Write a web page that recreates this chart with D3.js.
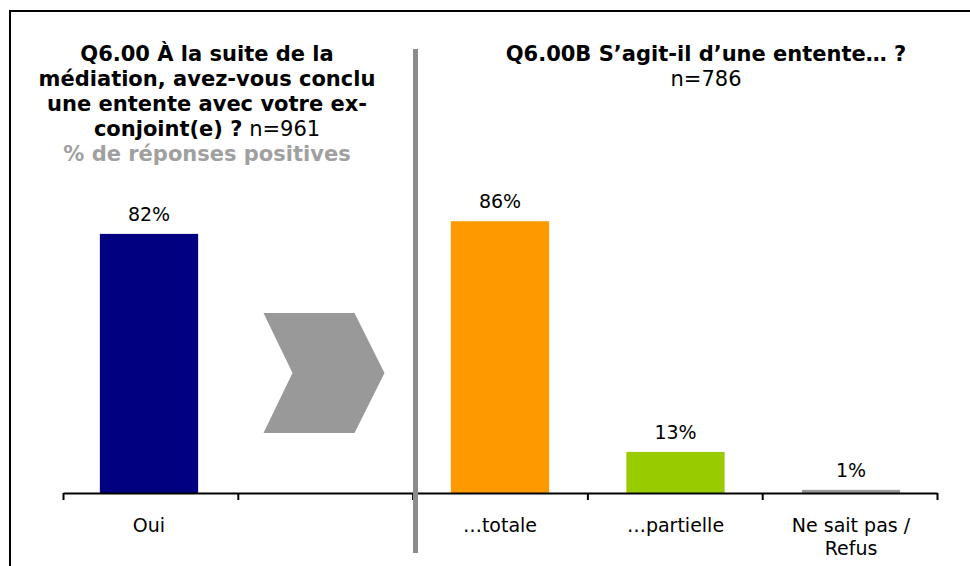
<!DOCTYPE html>
<html>
<head>
<meta charset="utf-8">
<script src="https://cdn.jsdelivr.net/npm/d3@7"></script>
<style>
  body { margin: 0; background: #fff; }
  svg { display: block; font-family: "DejaVu Sans", Verdana, sans-serif; }
</style>
</head>
<body>
<div id="chart"></div>
<script>
// categories (the empty one holds the arrow between the two questions)
const categories = ["Oui", "", "\u2026totale", "\u2026partielle", "Ne sait pas / Refus"];
const values = [82, null, 86, 13, 1];
const valueLabels = ["82%", "", "86%", "13%", "1%"];
const barColors = ["#000080", "none", "#FF9900", "#99CC00", "#999999"];
const labelLines = [["Oui"], [""], ["\u2026totale"], ["\u2026partielle"], ["Ne sait pas /", "Refus"]];

const leftTitle = ["Q6.00 \u00C0 la suite de la", "m\u00E9diation, avez-vous conclu", "une entente avec votre ex-"];
const leftTitleLast = ["conjoint(e) ?", " n=961"];
const leftSubtitle = "% de r\u00E9ponses positives";
const rightTitle = ["Q6.00B S\u2019agit-il d\u2019une entente\u2026 ?", "n=786"];

const W = 970, H = 566;
const svg = d3.select("#chart").append("svg")
    .attr("width", W)
    .attr("height", H);

// frame
svg.append("rect")
    .attr("x", 10).attr("y", 11)
    .attr("width", 1000).attr("height", 1000)
    .attr("fill", "none")
    .attr("stroke", "#000")
    .attr("stroke-width", 2);

// scales
const x = d3.scaleBand()
    .domain(categories)
    .range([63, 937])
    .paddingInner(0.44)
    .paddingOuter(0.21);

const y = d3.scaleLinear()
    .domain([0, 100])
    .range([493, 177]);

// bars
svg.selectAll(".bar")
    .data(categories.map((c, i) => ({ c, v: values[i], col: barColors[i] })).filter(d => d.v != null))
    .join("rect")
    .attr("class", "bar")
    .attr("x", d => x(d.c))
    .attr("width", x.bandwidth())
    .attr("y", d => y(d.v))
    .attr("height", d => y(0) - y(d.v))
    .attr("fill", d => d.col);

// value labels
svg.selectAll(".val")
    .data(categories.map((c, i) => ({ c, v: values[i], t: valueLabels[i] })).filter(d => d.v != null))
    .join("text")
    .attr("class", "val")
    .attr("x", d => x(d.c) + x.bandwidth() / 2)
    .attr("y", d => y(d.v) - 13)
    .attr("text-anchor", "middle")
    .attr("font-size", 19)
    .attr("fill", "#000")
    .text(d => d.t);

// x axis: ticks between categories
const xb = d3.scaleLinear().domain([0, categories.length]).range(x.range());
svg.append("g")
    .attr("transform", `translate(0,${y(0)})`)
    .call(d3.axisBottom(xb).tickValues(d3.range(categories.length + 1)).tickFormat("").tickSize(7).tickSizeOuter(0))
    .call(g => g.selectAll("path, line").attr("stroke", "#000").attr("stroke-width", 2));

// category labels
const cat = svg.selectAll(".cat")
    .data(categories.map((c, i) => ({ c, lines: labelLines[i] })))
    .join("text")
    .attr("class", "cat")
    .attr("text-anchor", "middle")
    .attr("font-size", 19)
    .attr("fill", "#000");
cat.selectAll("tspan")
    .data(d => d.lines.map(l => ({ l, cx: x(d.c) + x.bandwidth() / 2 })))
    .join("tspan")
    .attr("x", d => d.cx)
    .attr("y", (d, i) => y(0) + 39 + i * 23)
    .text(d => d.l);

// arrow between the two questions
const ac = x("") + x.bandwidth() / 2;
const aTop = y(57), aBot = y(19), aMid = (aTop + aBot) / 2;
svg.append("path")
    .attr("d", `M${ac - 61},${aTop} L${ac + 30},${aTop} L${ac + 60},${aMid} L${ac + 30},${aBot} L${ac - 61},${aBot} L${ac - 32},${aMid} Z`)
    .attr("fill", "#999999");

// divider
svg.append("rect")
    .attr("x", 413).attr("y", 49)
    .attr("width", 5).attr("height", 504)
    .attr("fill", "#8c8c8c");

// left title
const lt = svg.append("text")
    .attr("text-anchor", "middle")
    .attr("font-size", 21)
    .attr("font-weight", "bold")
    .attr("fill", "#000");
leftTitle.forEach((l, i) => {
    lt.append("tspan").attr("x", 207).attr("y", 61 + i * 25).text(l);
});
const last = lt.append("tspan").attr("x", 207).attr("y", 61 + 3 * 25);
last.text(leftTitleLast[0]);
lt.append("tspan").attr("font-weight", "normal").text(leftTitleLast[1]);
lt.append("tspan").attr("x", 207).attr("y", 61 + 4 * 25).attr("fill", "#a0a0a0").text(leftSubtitle);

// right title
svg.append("text")
    .attr("x", 706).attr("y", 61)
    .attr("text-anchor", "middle")
    .attr("font-size", 21)
    .attr("font-weight", "bold")
    .text(rightTitle[0]);
svg.append("text")
    .attr("x", 706).attr("y", 86)
    .attr("text-anchor", "middle")
    .attr("font-size", 21)
    .text(rightTitle[1]);
</script>
</body>
</html>
